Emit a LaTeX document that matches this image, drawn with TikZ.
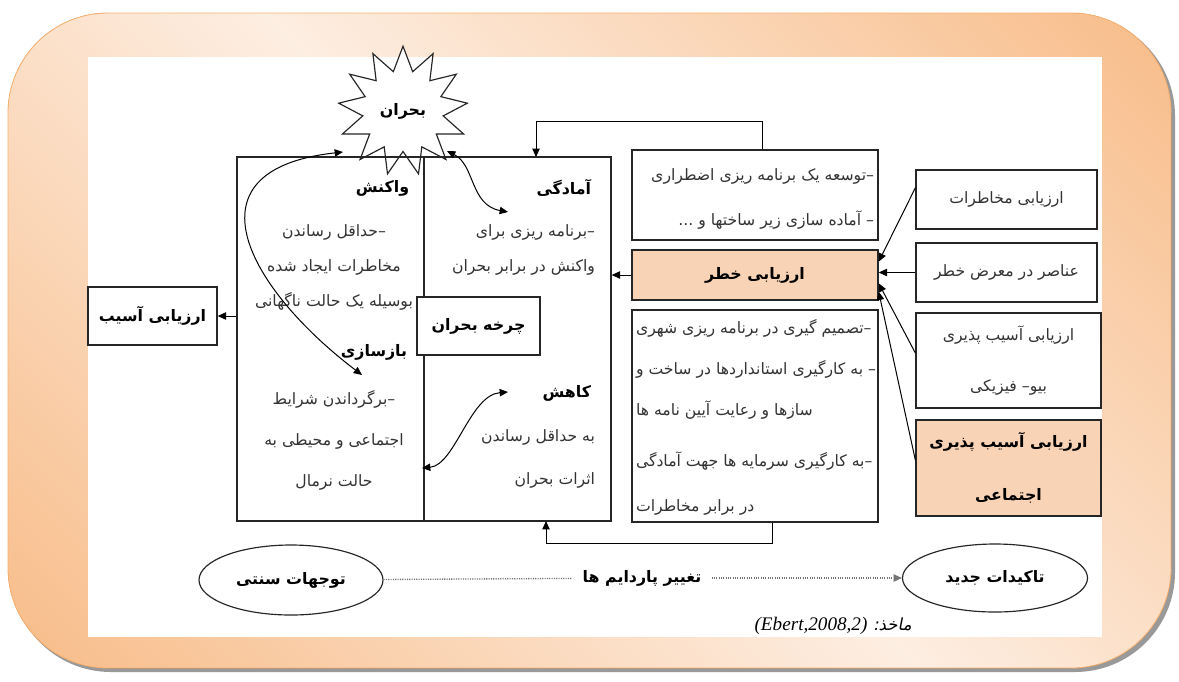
\documentclass[tikz,border=0pt]{standalone}
\usepackage{fontspec}
\usetikzlibrary{positioning,shapes.geometric,arrows.meta}
\TeXXeTstate=1
\newfontfamily\arabicfont[Script=Arabic]{DejaVu Sans}
\newfontfamily\arabicslant[Script=Arabic,FakeSlant=0.2]{DejaVu Sans}
\newfontfamily\latinserif{Liberation Serif}
\newcommand{\fa}[1]{\beginR#1\endR}
\definecolor{bgdark}{HTML}{F8BE8C}
\definecolor{bglight}{HTML}{FDEEE2}
\definecolor{peach}{HTML}{F9D3B5}
\definecolor{inkgray}{HTML}{333333}
\pgfdeclarehorizontalshading{framegrad}{100bp}{color(0bp)=(bgdark); color(16bp)=(bgdark); color(50bp)=(bglight); color(84bp)=(bgdark); color(100bp)=(bgdark)}
\tikzset{
  box/.style={draw=black!85, line width=0.8pt, inner sep=2pt},
  title/.style={font=\arabicfont\bfseries\fontsize{9.5}{12}\selectfont, text=black},
  body/.style={font=\arabicfont\fontsize{9.4}{#1}\selectfont, text=inkgray, inner sep=1pt},
  body/.default=12pt,
  link/.style={line width=0.6pt, -{Triangle[length=5pt,width=4.4pt]}},
  twoway/.style={line width=0.6pt, {Triangle[length=5pt,width=4.4pt]}-{Triangle[length=5pt,width=4.4pt]}},
  dotline/.style={line width=0.8pt, black!55, dash pattern=on 0.7pt off 0.7pt}
}
\begin{document}
\begin{tikzpicture}[x=0.6pt,y=-0.6pt]
\useasboundingbox (0,0) rectangle (1179,681);
\fill[black!40, rounded corners=60pt] (11,16) rectangle (1175,672);
\fill[shading=framegrad, shading angle=45, rounded corners=60pt] (8,13) rectangle (1171,668);
\draw[bgdark!80!orange, line width=0.5pt, rounded corners=60pt] (8,13) rectangle (1171,668);
\fill[white] (88,57) rectangle (1102,637);

\node[star, star points=13, star point ratio=1.6, minimum size=64pt, draw=black!85, fill=white, line width=0.7pt, title] (crisis) at (403,111) {\fa{بحران}};

\node[box, minimum width=224.4pt, minimum height=218.4pt] (cycle) at (424,339) {};
\node[box, fill=white, minimum width=73.8pt, minimum height=34.8pt, title] (charkhe) at (478.5,326) {\fa{چرخه بحران}};
\draw[line width=0.8pt, black!85] (cycle.north) -- (cycle.north |- charkhe.north);
\draw[line width=0.8pt, black!85] (charkhe.south -| cycle.south) -- (cycle.south);

\node[title, anchor=east] (wtitle) at (415,188) {\fa{واکنش}};
\node[body=21pt, align=center] (wtxt) at (334,267) {\fa{–حداقل رساندن}\\\fa{مخاطرات ایجاد شده}\\\fa{بوسیله یک حالت ناگهانی}};
\node[title, anchor=east] (btitle) at (413,352) {\fa{بازسازی}};
\node[body=24.6pt, align=center] (btxt) at (334,440) {\fa{–برگرداندن شرایط}\\\fa{اجتماعی و محیطی به}\\\fa{حالت نرمال}};
\node[title, anchor=east] (atitle) at (597,188) {\fa{آمادگی}};
\node[body=21pt, align=right, anchor=east] (atxt) at (597,249.5) {\fa{–برنامه ریزی برای}\\\fa{واکنش در برابر بحران}};
\node[title, anchor=east] (ktitle) at (597,393) {\fa{کاهش}};
\node[body=25.8pt, align=right, anchor=east] (ktxt) at (597,458.5) {\fa{به حداقل رساندن}\\\fa{اثرات بحران}};

\node[box, minimum width=77.4pt, minimum height=34.8pt, title] (asib) at (152.5,316) {\fa{ارزیابی آسیب}};

\node[box, minimum width=147.6pt, minimum height=54pt] (tose) at (755,195) {};
\node[body=27pt, align=right, anchor=east] (tosetxt) at (876,198.5) {\fa{–توسعه یک برنامه ریزی اضطراری}\\\fa{– آماده سازی زیر ساختها و ...}};
\node[box, fill=peach, minimum width=147.6pt, minimum height=30pt, title] (khatar) at (755,275) {\fa{ارزیابی خطر}};
\node[box, minimum width=147.6pt, minimum height=127.2pt] (tasmim) at (755,416) {};
\node[body=24.6pt, align=left, anchor=west] (tasmimtxt) at (634,417.5) {\fa{–تصمیم گیری در برنامه ریزی شهری}\\\fa{– به کارگیری استانداردها در ساخت و}\\\fa{سازها و رعایت آیین نامه ها}\\[6pt]\fa{–به کارگیری سرمایه ها جهت آمادگی}\\[2.4pt]\fa{در برابر مخاطرات}};

\node[box, minimum width=108.6pt, minimum height=35.4pt, body] (r1) at (1006.5,199.5) {\fa{ارزیابی مخاطرات}};
\node[box, minimum width=108.6pt, minimum height=35.4pt, body] (r2) at (1006.5,272.5) {\fa{عناصر در معرض خطر}};
\node[box, minimum width=111pt, minimum height=57pt, body=30.6pt, align=center] (r3) at (1008.5,360.5) {\fa{ارزیابی آسیب پذیری}\\\fa{بیو– فیزیکی}};
\node[box, fill=peach, minimum width=111pt, minimum height=57.6pt, title, font=\arabicfont\bfseries\fontsize{9.5}{31.8}\selectfont, align=center] (r4) at (1008.5,468) {\fa{ارزیابی آسیب پذیری}\\\fa{اجتماعی}};

\node[ellipse, draw=black!85, line width=0.7pt, minimum width=110.4pt, minimum height=42pt, title] (sonnati) at (291,580) {\fa{توجهات سنتی}};
\node[ellipse, draw=black!85, line width=0.7pt, minimum width=111pt, minimum height=40.8pt, title] (jadid) at (995,578) {\fa{تاکیدات جدید}};
\node[title, inner xsep=6pt] (paradigm) at (642,578) {\fa{تغییر پاردایم ها}};
\node[anchor=east, inner sep=0pt] (source) at (912,626) {{\latinserif\itshape\fontsize{11.5}{13}\selectfont (Ebert,2008,2)}\ {\arabicslant\fontsize{10}{13}\selectfont\fa{ماخذ:}}};

\coordinate (topin) at (536,157);
\coordinate (botin) at (546,521);
\coordinate (ca1) at (343,152);
\coordinate (ca2) at (362,375);
\coordinate (cb1) at (447,151);
\coordinate (cb2) at (508,212);
\coordinate (cc1) at (422,468);
\coordinate (cc2) at (508,392);

\draw[twoway] (ca1) .. controls (180,170) and (250,290) .. (ca2);
\draw[twoway] (cb1) .. controls (475,165) and (470,205) .. (cb2);
\draw[twoway] (cc1) .. controls (455,465) and (470,395) .. (cc2);

\draw[link] (asib.east -| cycle.west) -- (asib.east);
\draw[link] (khatar.west) -- (khatar.west -| cycle.east);
\draw[link] ([xshift=4.2pt]tose.north) -- ++(0,-28) -| (topin);
\draw[link] ([xshift=10.2pt]tasmim.south) -- ++(0,21) -| (botin);

\draw[link] ([yshift=7pt]r1.west) -- ([yshift=8pt]khatar.east);
\draw[link] (r2.west) -- (r2.west -| khatar.east);
\draw[link] ([yshift=4.5pt]r3.west) -- ([yshift=-5pt]khatar.east);
\draw[link] ([yshift=4.8pt]r4.west) -- ([yshift=-10pt]khatar.east);

\draw[dotline] (sonnati) -- (paradigm);
\draw[link, dotline] (paradigm) -- (jadid);
\end{tikzpicture}
\end{document}
